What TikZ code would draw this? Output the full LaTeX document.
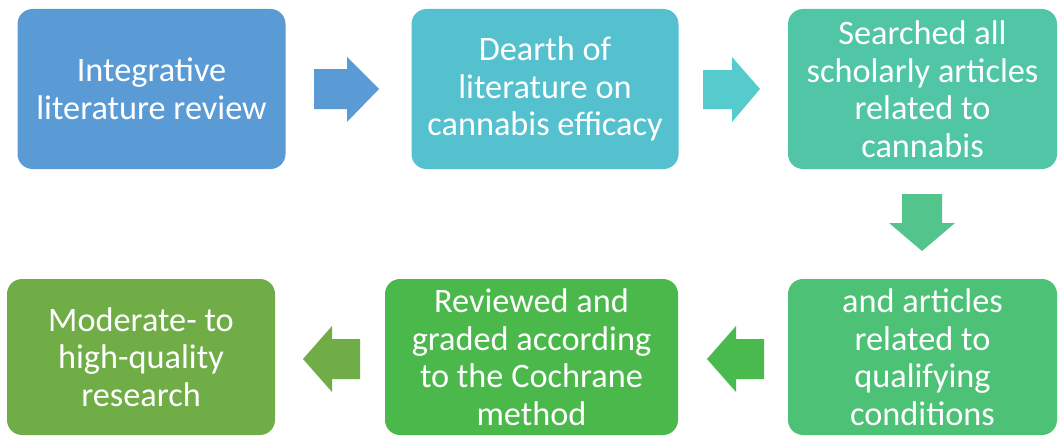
\documentclass[tikz,border=0pt]{standalone}
\usepackage{fontspec}
\setmainfont{Carlito}
\begin{document}
\begin{tikzpicture}[x=1pt,y=-1pt,
  stepbox/.style={rounded corners=15pt, inner sep=0pt, align=center,
    text=white, font=\fontsize{34.3}{37.5}\selectfont, draw=none},
  blockarrow/.style={draw=none}]
\definecolor{cA}{HTML}{5B9BD5}
\definecolor{cB}{HTML}{55C1CF}
\definecolor{cBa}{HTML}{55CBCD}
\definecolor{cC}{HTML}{51C6A7}
\definecolor{cCa}{HTML}{52C48C}
\definecolor{cD}{HTML}{4DC176}
\definecolor{cDa}{HTML}{49BA4D}
\definecolor{cE}{HTML}{4BB84B}
\definecolor{cF}{HTML}{70AD47}
\useasboundingbox (0,0) rectangle (1059,436);
\fill[white] (0,0) rectangle (1059,436);

% process boxes
\node[stepbox, fill=cA, minimum width=268pt, minimum height=160pt] (b1) at (151.5,89)
  {Integrative\\literature review};
\node[stepbox, fill=cB, minimum width=267pt, minimum height=160pt] (b2) at (545,89)
  {Dearth of\\literature on\\cannabis efficacy};
\node[stepbox, fill=cC, minimum width=269pt, minimum height=160pt] (b3) at (922.5,89)
  {Searched all\\scholarly articles\\related to\\cannabis};
\node[stepbox, fill=cD, minimum width=269pt, minimum height=156pt] (b4) at (922.5,357)
  {and articles\\related to\\qualifying\\conditions};
\node[stepbox, fill=cE, minimum width=293pt, minimum height=156pt] (b5) at (531.5,357)
  {Reviewed and\\graded according\\to the Cochrane\\method};
\node[stepbox, fill=cF, minimum width=268pt, minimum height=156pt] (b6) at (141,357)
  {Moderate- to\\high-quality\\research};

% block arrows between the boxes
\fill[cA] (314,69) -- (347,69) -- (347,57) -- (379,89) -- (347,122) -- (347,109) -- (314,109) -- cycle;
\fill[cBa] (703,70) -- (732,70) -- (732,57) -- (760,89) -- (732,122) -- (732,109) -- (703,109) -- cycle;
\fill[cCa] (902,194) -- (942,194) -- (942,223) -- (955,223) -- (922,251) -- (889,223) -- (902,223) -- cycle;
\fill[cDa] (764,339) -- (736,339) -- (736,326) -- (707,359) -- (736,392) -- (736,379) -- (764,379) -- cycle;
\fill[cF] (360,339) -- (332,339) -- (332,326) -- (303,359) -- (332,392) -- (332,379) -- (360,379) -- cycle;
\end{tikzpicture}
\end{document}
